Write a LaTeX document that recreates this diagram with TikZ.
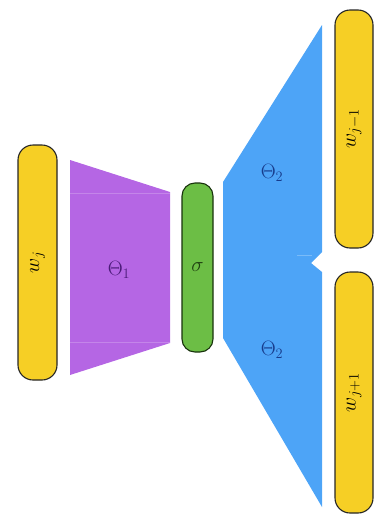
\documentclass[tikz,border=0pt]{standalone}
\usepackage{tikz}
\definecolor{barY}{HTML}{F6CF25}
\definecolor{barG}{HTML}{6CBE45}
\definecolor{purp}{HTML}{B566E4}
\definecolor{blu}{HTML}{4DA4F7}
\definecolor{purpT}{HTML}{4A1A78}
\definecolor{bluT}{HTML}{173C8C}
\definecolor{grnT}{HTML}{1F4010}
\begin{document}
\begin{tikzpicture}[x=1pt,y=-1pt,
  bar/.style={draw=black!85, line width=1.1pt, rounded corners=15pt, rotate=90, inner sep=0pt, font=\fontsize{21}{24}\selectfont},
  lbl/.style={font=\fontsize{21}{24}\selectfont, inner sep=0pt}]
\useasboundingbox (0,0) rectangle (385,525);
% purple trapezoid
\fill[purp] (70,160) -- (170,192) -- (170,343) -- (70,375) -- cycle;
\draw[purp!80!white, line width=0.5pt] (70,193) -- (170,193);
\draw[purp!80!white, line width=0.5pt] (70,342) -- (170,342);
% blue shape
\fill[blu] (223,182) -- (322,25) -- (322,252) -- (311,263) -- (322,272) -- (322,507) -- (223,338) -- cycle;
\draw[blu!75!white, line width=0.5pt] (297,255) -- (312,255);
% bars
\node[bar, fill=barY, minimum width=235pt, minimum height=39pt] (wj) at (37.5,262.5) {$w_j$};
\node[bar, fill=barG, minimum width=169pt, minimum height=31pt, draw=grnT!80!black, rounded corners=13pt] (sig) at (197.5,267.5) {};
\node[lbl, text=grnT] (sigl) at (sig.center) {$\sigma$};
\node[bar, fill=barY, minimum width=238pt, minimum height=38pt] (wjm) at (354,129) {$w_{j-1}$};
\node[bar, fill=barY, minimum width=241pt, minimum height=38pt] (wjp) at (354,392.5) {$w_{j+1}$};
% labels
\node[lbl, text=purpT] (t1) at (119,270) {$\Theta_1$};
\node[lbl, text=bluT] (t2a) at (272,173) {$\Theta_2$};
\node[lbl, text=bluT] (t2b) at (272,350) {$\Theta_2$};
\end{tikzpicture}
\end{document}
